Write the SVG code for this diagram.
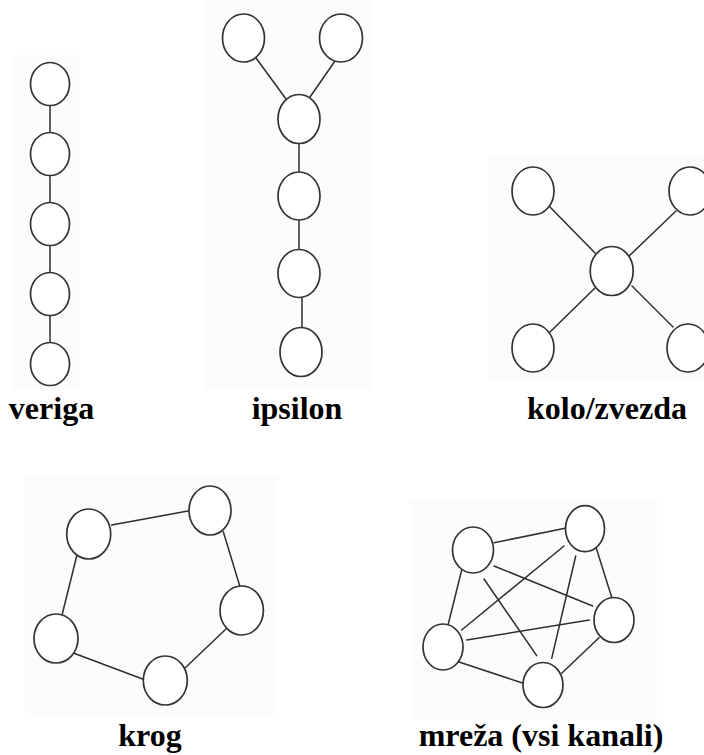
<svg xmlns="http://www.w3.org/2000/svg" width="704" height="755" viewBox="0 0 704 755">
  <style>
    .panel { fill: #fcfcfc; stroke: none; }
    .node { fill: #ffffff; stroke: #333333; stroke-width: 1.7; }
    .edge { stroke: #2e2e2e; stroke-width: 1.5; fill: none; stroke-linecap: round; }
    .label { font-family: "Liberation Serif", "Times New Roman", serif; font-weight: bold; font-size: 32px; fill: #000000; text-anchor: middle; }
  </style>
  <rect width="704" height="755" fill="#ffffff"/>

  <!-- faint panel backgrounds -->
  <rect class="panel" x="13" y="55" width="67" height="335"/>
  <rect class="panel" x="205" y="0" width="168" height="390"/>
  <rect class="panel" x="488" y="155" width="216" height="225"/>
  <rect class="panel" x="25" y="477" width="253" height="241"/>
  <rect class="panel" x="410" y="499" width="247" height="221"/>

  <!-- connectors -->
  <g id="connectors">
    <!-- veriga -->
    <line class="edge" x1="50" y1="105.5" x2="50" y2="132.5"/>
    <line class="edge" x1="50" y1="175.5" x2="50" y2="202.5"/>
    <line class="edge" x1="50" y1="245.5" x2="50" y2="272.5"/>
    <line class="edge" x1="50" y1="315.5" x2="50" y2="342.5"/>
    <!-- ipsilon -->
    <line class="edge" x1="256" y1="58" x2="286" y2="99"/>
    <line class="edge" x1="335" y1="61" x2="310" y2="97"/>
    <line class="edge" x1="299" y1="143" x2="299" y2="172"/>
    <line class="edge" x1="299" y1="220" x2="299" y2="250"/>
    <line class="edge" x1="302" y1="297" x2="302" y2="328"/>
    <!-- kolo/zvezda -->
    <line class="edge" x1="550" y1="207" x2="595" y2="253"/>
    <line class="edge" x1="676" y1="211" x2="628" y2="257"/>
    <line class="edge" x1="550" y1="332" x2="595" y2="288"/>
    <line class="edge" x1="632" y1="286" x2="673" y2="327"/>
    <!-- krog -->
    <line class="edge" x1="111.7" y1="525" x2="189.3" y2="510.7"/>
    <line class="edge" x1="223.3" y1="531.7" x2="240" y2="586.7"/>
    <line class="edge" x1="226" y1="629" x2="185" y2="668"/>
    <line class="edge" x1="73.3" y1="653" x2="143.3" y2="679.3"/>
    <line class="edge" x1="76.7" y1="556" x2="62.3" y2="614"/>
    <!-- mreža -->
    <line class="edge" x1="494" y1="542.7" x2="565" y2="528.3"/>
    <line class="edge" x1="494" y1="566" x2="592.7" y2="606"/>
    <line class="edge" x1="484" y1="579" x2="536.7" y2="655.7"/>
    <line class="edge" x1="461.7" y1="570" x2="448.3" y2="624"/>
    <line class="edge" x1="564" y1="546" x2="461.7" y2="630"/>
    <line class="edge" x1="575.7" y1="556" x2="551.7" y2="658.3"/>
    <line class="edge" x1="596" y1="547.3" x2="611.7" y2="597.3"/>
    <line class="edge" x1="466.7" y1="640" x2="589.3" y2="620"/>
    <line class="edge" x1="599" y1="637.7" x2="561.7" y2="673.3"/>
    <line class="edge" x1="458.3" y1="661.7" x2="523.3" y2="683.3"/>
  </g>

  <!-- veriga (chain) -->
  <g id="veriga">
    <ellipse id="v1" class="node" cx="50" cy="84" rx="19.5" ry="21.5"/>
    <ellipse id="v2" class="node" cx="50" cy="154" rx="19.5" ry="21.5"/>
    <ellipse id="v3" class="node" cx="50" cy="224" rx="19.5" ry="21.5"/>
    <ellipse id="v4" class="node" cx="50" cy="294" rx="19.5" ry="21.5"/>
    <ellipse id="v5" class="node" cx="50" cy="364" rx="19.5" ry="21.5"/>
    <text class="label" x="51.5" y="419">veriga</text>
  </g>

  <!-- ipsilon (Y) -->
  <g id="ipsilon">
    <ellipse id="y1" class="node" cx="243.5" cy="38" rx="21" ry="24"/>
    <ellipse id="y2" class="node" cx="341" cy="38" rx="21.5" ry="24"/>
    <ellipse id="y3" class="node" cx="299" cy="119" rx="21" ry="24.5"/>
    <ellipse id="y4" class="node" cx="299" cy="196" rx="21" ry="24"/>
    <ellipse id="y5" class="node" cx="299" cy="273.5" rx="21" ry="24"/>
    <ellipse id="y6" class="node" cx="301" cy="352" rx="21" ry="24.5"/>
    <text class="label" x="297" y="419">ipsilon</text>
  </g>

  <!-- kolo/zvezda (star) -->
  <g id="kolo">
    <ellipse id="k1" class="node" cx="533" cy="191" rx="21" ry="24"/>
    <ellipse id="k2" class="node" cx="690" cy="191" rx="21" ry="24"/>
    <ellipse id="k3" class="node" cx="611.7" cy="271" rx="21.5" ry="24.5"/>
    <ellipse id="k4" class="node" cx="533" cy="348" rx="21" ry="24"/>
    <ellipse id="k5" class="node" cx="688" cy="348" rx="21" ry="24"/>
    <text class="label" x="607" y="419">kolo/zvezda</text>
  </g>

  <!-- krog (ring) -->
  <g id="krog">
    <ellipse id="r1" class="node" cx="88.7" cy="534" rx="22" ry="25"/>
    <ellipse id="r2" class="node" cx="210" cy="510.5" rx="21" ry="24.5"/>
    <ellipse id="r3" class="node" cx="241.7" cy="610.5" rx="21.7" ry="24.5"/>
    <ellipse id="r4" class="node" cx="56" cy="638.5" rx="22" ry="24.5"/>
    <ellipse id="r5" class="node" cx="165.3" cy="680.5" rx="22" ry="24.5"/>
    <text class="label" x="150" y="746">krog</text>
  </g>

  <!-- mreža (complete graph) -->
  <g id="mreza">
    <ellipse id="m1" class="node" cx="473" cy="550" rx="20.5" ry="23"/>
    <ellipse id="m2" class="node" cx="585" cy="528.7" rx="19.5" ry="23"/>
    <ellipse id="m3" class="node" cx="614" cy="620" rx="20" ry="22.5"/>
    <ellipse id="m4" class="node" cx="443" cy="647" rx="20" ry="23"/>
    <ellipse id="m5" class="node" cx="543" cy="685" rx="20" ry="22.5"/>
    <text class="label" x="541" y="746">mreža (vsi kanali)</text>
  </g>
</svg>
